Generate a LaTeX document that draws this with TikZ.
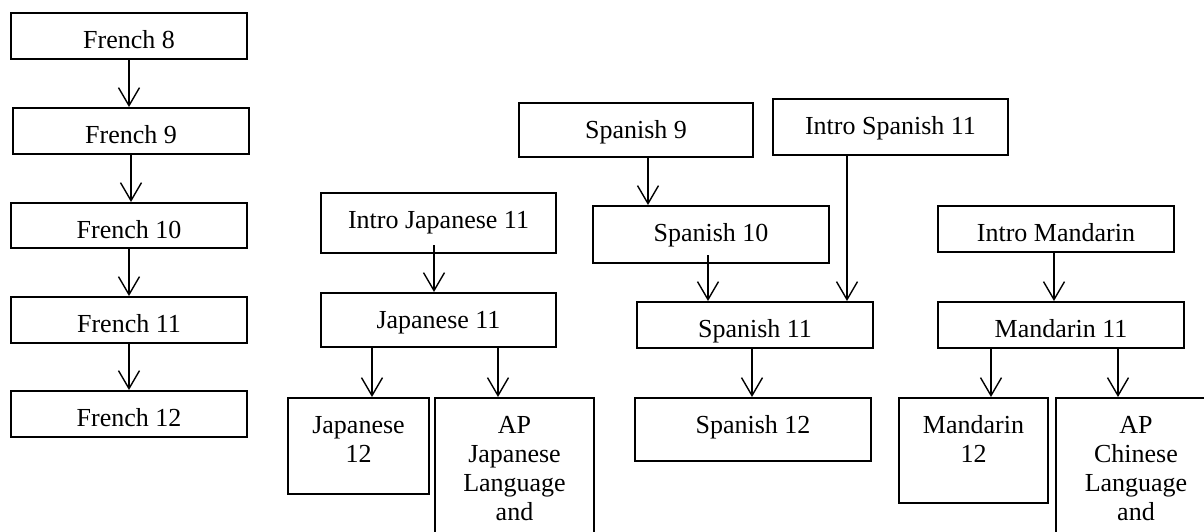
\documentclass[tikz,border=0pt]{standalone}
\usepackage{fontspec}
\setmainfont{Liberation Serif}
\usetikzlibrary{arrows.meta}

\tikzset{
  course/.style={draw, line width=1pt, anchor=north west, inner sep=0pt,
    text height=17.5pt, font=\fontsize{13}{14.5}\selectfont},
  link/.style={line width=0.7pt, -{Straight Barb[length=9pt, width=10.5pt]}}
}

\begin{document}
\begin{tikzpicture}[x=0.5pt, y=-0.5pt]
  \useasboundingbox (0,0) rectangle (1204,531);
  \clip (0,0) rectangle (1204,531);
  % French track
  \foreach \n/\xx/\yy/\dd in {8/10/12/5.5, 9/12/107/5.5, 10/10/202/5, 11/10/296/5.5, 12/10/390/5.5}
    \node[course, minimum width=118pt, text depth=\dd pt] (fr\n) at (\xx,\yy) {French \n};
  \foreach \a/\b in {8/9, 9/10, 10/11, 11/12}
    \draw[link] (fr\a) -- (fr\a.south |- fr\b.north);
  % Japanese track
  \node[course, minimum width=117.5pt, text depth=12.5pt] (introjap) at (320,192) {Intro Japanese 11};
  \node[course, minimum width=117.5pt, text depth=9.5pt] (jap11) at (320,292) {Japanese 11};
  \node[course, minimum width=70.5pt, text depth=30.5pt] (jap12) at (287,397)
    {\parbox[t]{70pt}{\centering Japanese\\12}};
  \node[course, minimum width=79.5pt, text depth=107.5pt] (apjap) at (434,397)
    {\parbox[t]{79pt}{\centering AP\\Japanese\\Language\\and}};
  \draw[link] (introjap.south -| 434,0) ++(0,-9) -- (jap11.north -| 434,0);
  \draw[link] (jap11.south -| 372,0) -- (jap12.north -| 372,0);
  \draw[link] (jap11.south -| 498,0) -- (apjap.north -| 498,0);
  % Spanish track
  \node[course, minimum width=117pt, text depth=9.5pt] (span9) at (518,102) {Spanish 9};
  \node[course, minimum width=117.5pt, text depth=10.5pt] (introspan) at (772,98) {Intro Spanish 11};
  \node[course, minimum width=118pt, text depth=11pt] (span10) at (592,205) {Spanish 10};
  \node[course, minimum width=118pt, text depth=5.5pt] (span11) at (636,301) {Spanish 11};
  \node[course, minimum width=118pt, text depth=14pt] (span12) at (634,397) {Spanish 12};
  \draw[link] (span9.south -| 648,0) -- (span10.north -| 648,0);
  \draw[link] (span10.south -| 708,0) ++(0,-9) -- (span11.north -| 708,0);
  \draw[link] (introspan.south -| 847,0) -- (span11.north -| 847,0);
  \draw[link] (span11.south -| 752,0) -- (span12.north -| 752,0);
  % Mandarin track
  \node[course, minimum width=118pt, text depth=5.5pt] (intromand) at (937,205) {Intro Mandarin};
  \node[course, minimum width=123pt, text depth=5.5pt] (mand11) at (937,301) {Mandarin 11};
  \node[course, minimum width=74.5pt, text depth=35pt] (mand12) at (898,397)
    {\parbox[t]{74pt}{\centering Mandarin\\12}};
  \node[course, minimum width=80pt, text depth=107.5pt] (apchi) at (1055,397)
    {\parbox[t]{79pt}{\centering AP\\Chinese\\Language\\and}};
  \draw[link] (intromand.south -| 1054,0) -- (mand11.north -| 1054,0);
  \draw[link] (mand11.south -| 991,0) -- (mand12.north -| 991,0);
  \draw[link] (mand11.south -| 1118,0) -- (apchi.north -| 1118,0);
\end{tikzpicture}
\end{document}
